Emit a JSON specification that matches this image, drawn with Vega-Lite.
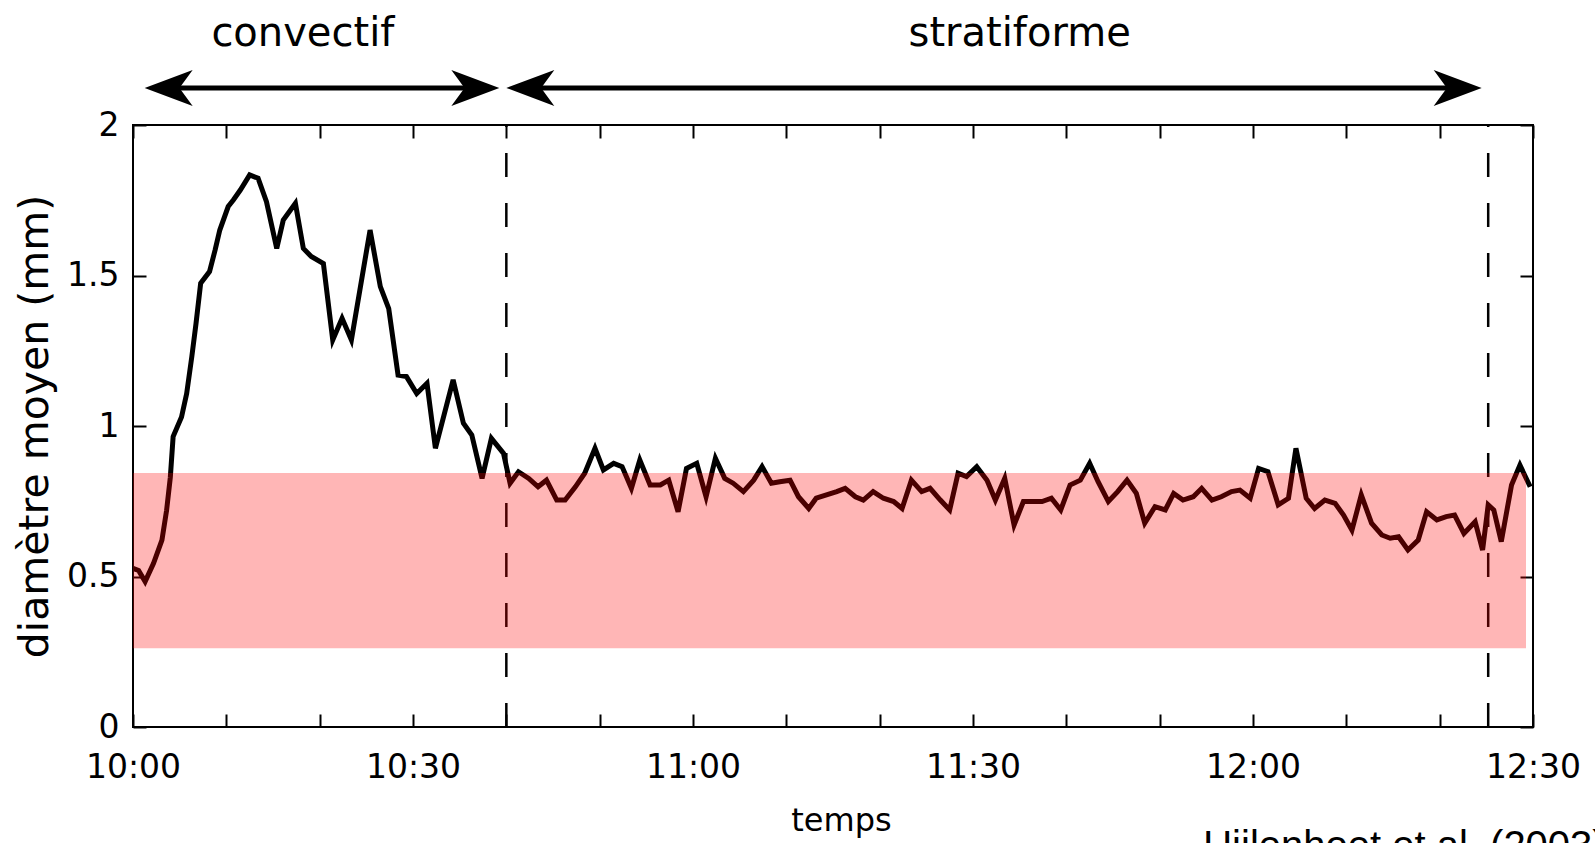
{
  "$schema": "https://vega.github.io/schema/vega-lite/v6.json",
  "width": 1400,
  "height": 602,
  "autosize": "none",
  "padding": {"left": 133, "top": 125, "right": 62, "bottom": 116},
  "background": "white",
  "config": {
    "view": {"stroke": "black", "strokeWidth": 2},
    "axis": {
      "labelFont": "DejaVu Sans",
      "titleFont": "DejaVu Sans",
      "labelColor": "black",
      "titleColor": "black",
      "tickColor": "black",
      "tickWidth": 2,
      "labelFontSize": 33,
      "titleFontWeight": "normal",
      "grid": false,
      "domain": false,
      "labelOverlap": false,
      "labelFlush": false,
      "labelBound": false
    },
    "text": {"font": "DejaVu Sans", "color": "black"}
  },
  "layer": [
    {
      "data": {
        "values": [
          {"t": "10:00:00", "d": 0.527}, {"t": "10:00:36", "d": 0.52}, {"t": "10:01:18", "d": 0.483},
          {"t": "10:02:12", "d": 0.544}, {"t": "10:03:06", "d": 0.621}, {"t": "10:03:36", "d": 0.72},
          {"t": "10:04:00", "d": 0.83}, {"t": "10:04:18", "d": 0.965}, {"t": "10:05:12", "d": 1.03},
          {"t": "10:05:45", "d": 1.108}, {"t": "10:06:18", "d": 1.23}, {"t": "10:06:45", "d": 1.34},
          {"t": "10:07:15", "d": 1.474}, {"t": "10:08:12", "d": 1.513}, {"t": "10:08:48", "d": 1.585},
          {"t": "10:09:18", "d": 1.651}, {"t": "10:10:12", "d": 1.729}, {"t": "10:10:45", "d": 1.751},
          {"t": "10:11:30", "d": 1.784}, {"t": "10:12:30", "d": 1.834}, {"t": "10:13:24", "d": 1.823},
          {"t": "10:14:18", "d": 1.745}, {"t": "10:15:24", "d": 1.59}, {"t": "10:16:06", "d": 1.684},
          {"t": "10:17:24", "d": 1.74}, {"t": "10:18:15", "d": 1.59}, {"t": "10:19:06", "d": 1.563},
          {"t": "10:20:24", "d": 1.54}, {"t": "10:21:24", "d": 1.286}, {"t": "10:22:24", "d": 1.358},
          {"t": "10:23:24", "d": 1.286}, {"t": "10:25:24", "d": 1.651}, {"t": "10:26:30", "d": 1.463},
          {"t": "10:27:24", "d": 1.39}, {"t": "10:28:24", "d": 1.169}, {"t": "10:29:18", "d": 1.164},
          {"t": "10:30:24", "d": 1.108}, {"t": "10:31:30", "d": 1.142}, {"t": "10:32:24", "d": 0.926},
          {"t": "10:34:18", "d": 1.153}, {"t": "10:35:24", "d": 1.009}, {"t": "10:36:18", "d": 0.97},
          {"t": "10:37:24", "d": 0.826}, {"t": "10:38:24", "d": 0.959}, {"t": "10:39:42", "d": 0.909},
          {"t": "10:40:24", "d": 0.81}, {"t": "10:41:18", "d": 0.848}, {"t": "10:42:24", "d": 0.826},
          {"t": "10:43:24", "d": 0.798}, {"t": "10:44:18", "d": 0.82}, {"t": "10:45:24", "d": 0.754},
          {"t": "10:46:18", "d": 0.754}, {"t": "10:47:24", "d": 0.798}, {"t": "10:48:24", "d": 0.843},
          {"t": "10:49:30", "d": 0.926}, {"t": "10:50:24", "d": 0.854}, {"t": "10:51:30", "d": 0.876},
          {"t": "10:52:24", "d": 0.865}, {"t": "10:53:24", "d": 0.793}, {"t": "10:54:18", "d": 0.887},
          {"t": "10:55:24", "d": 0.804}, {"t": "10:56:30", "d": 0.804}, {"t": "10:57:24", "d": 0.82},
          {"t": "10:58:24", "d": 0.715}, {"t": "10:59:18", "d": 0.859}, {"t": "11:00:24", "d": 0.876},
          {"t": "11:01:24", "d": 0.765}, {"t": "11:02:24", "d": 0.893}, {"t": "11:03:24", "d": 0.826},
          {"t": "11:04:18", "d": 0.81}, {"t": "11:05:24", "d": 0.782}, {"t": "11:06:30", "d": 0.82},
          {"t": "11:07:24", "d": 0.865}, {"t": "11:08:24", "d": 0.81}, {"t": "11:09:18", "d": 0.815},
          {"t": "11:10:24", "d": 0.82}, {"t": "11:11:18", "d": 0.765}, {"t": "11:12:24", "d": 0.726},
          {"t": "11:13:12", "d": 0.76}, {"t": "11:14:18", "d": 0.771}, {"t": "11:15:24", "d": 0.782},
          {"t": "11:16:18", "d": 0.793}, {"t": "11:17:24", "d": 0.765}, {"t": "11:18:15", "d": 0.754},
          {"t": "11:19:18", "d": 0.782}, {"t": "11:20:24", "d": 0.76}, {"t": "11:21:30", "d": 0.749},
          {"t": "11:22:24", "d": 0.726}, {"t": "11:23:24", "d": 0.82}, {"t": "11:24:30", "d": 0.782},
          {"t": "11:25:24", "d": 0.793}, {"t": "11:26:30", "d": 0.754}, {"t": "11:27:30", "d": 0.721},
          {"t": "11:28:24", "d": 0.843}, {"t": "11:29:18", "d": 0.832}, {"t": "11:30:24", "d": 0.865},
          {"t": "11:31:30", "d": 0.82}, {"t": "11:32:24", "d": 0.754}, {"t": "11:33:24", "d": 0.826},
          {"t": "11:34:24", "d": 0.671}, {"t": "11:35:24", "d": 0.749}, {"t": "11:36:30", "d": 0.749},
          {"t": "11:37:24", "d": 0.749}, {"t": "11:38:24", "d": 0.76}, {"t": "11:39:24", "d": 0.721},
          {"t": "11:40:24", "d": 0.804}, {"t": "11:41:30", "d": 0.82}, {"t": "11:42:30", "d": 0.876},
          {"t": "11:43:24", "d": 0.815}, {"t": "11:44:30", "d": 0.749}, {"t": "11:45:30", "d": 0.782},
          {"t": "11:46:30", "d": 0.82}, {"t": "11:47:30", "d": 0.776}, {"t": "11:48:24", "d": 0.677},
          {"t": "11:49:30", "d": 0.732}, {"t": "11:50:36", "d": 0.721}, {"t": "11:51:30", "d": 0.776},
          {"t": "11:52:30", "d": 0.754}, {"t": "11:53:36", "d": 0.765}, {"t": "11:54:30", "d": 0.793},
          {"t": "11:55:36", "d": 0.754}, {"t": "11:56:36", "d": 0.765}, {"t": "11:57:42", "d": 0.782},
          {"t": "11:58:36", "d": 0.787}, {"t": "11:59:42", "d": 0.76}, {"t": "12:00:36", "d": 0.859},
          {"t": "12:01:36", "d": 0.848}, {"t": "12:02:42", "d": 0.738}, {"t": "12:03:48", "d": 0.76},
          {"t": "12:04:36", "d": 0.926}, {"t": "12:05:42", "d": 0.76}, {"t": "12:06:36", "d": 0.726},
          {"t": "12:07:42", "d": 0.754}, {"t": "12:08:48", "d": 0.743}, {"t": "12:09:42", "d": 0.704},
          {"t": "12:10:36", "d": 0.654}, {"t": "12:11:36", "d": 0.771}, {"t": "12:12:42", "d": 0.677},
          {"t": "12:13:48", "d": 0.638}, {"t": "12:14:42", "d": 0.627}, {"t": "12:15:36", "d": 0.632},
          {"t": "12:16:36", "d": 0.588}, {"t": "12:17:42", "d": 0.621}, {"t": "12:18:36", "d": 0.715},
          {"t": "12:19:42", "d": 0.688}, {"t": "12:20:42", "d": 0.699}, {"t": "12:21:36", "d": 0.704},
          {"t": "12:22:36", "d": 0.643}, {"t": "12:23:48", "d": 0.682}, {"t": "12:24:36", "d": 0.588},
          {"t": "12:25:12", "d": 0.738}, {"t": "12:25:48", "d": 0.721}, {"t": "12:26:36", "d": 0.616},
          {"t": "12:27:42", "d": 0.804}, {"t": "12:28:36", "d": 0.87}, {"t": "12:29:42", "d": 0.798}
        ],
        "format": {"parse": {"t": "utc:'%H:%M:%S'"}}
      },
      "mark": {"type": "line", "color": "black", "strokeWidth": 5},
      "encoding": {
        "x": {
          "field": "t",
          "type": "temporal",
          "scale": {"type": "utc", "domain": [-2208952800000, -2208943800000]},
          "axis": {
            "orient": "bottom",
            "values": [
              -2208952800000, -2208952200000, -2208951600000, -2208951000000,
              -2208950400000, -2208949800000, -2208949200000, -2208948600000,
              -2208948000000, -2208947400000, -2208946800000, -2208946200000,
              -2208945600000, -2208945000000, -2208944400000, -2208943800000
            ],
            "labelExpr": "utcminutes(datum.value) % 30 === 0 ? utcFormat(datum.value, '%H:%M') : ''",
            "tickSize": -13,
            "labelPadding": 37,
            "title": "temps",
            "titleFontSize": 32,
            "titlePadding": 21,
            "titleX": 708
          }
        },
        "y": {
          "field": "d",
          "type": "quantitative",
          "scale": {"domain": [0, 2], "nice": false, "zero": false},
          "axis": {
            "orient": "left",
            "values": [0, 0.5, 1, 1.5, 2],
            "format": "~g",
            "tickSize": -13,
            "labelPadding": 27,
            "title": "diamètre moyen (mm)",
            "titleFontSize": 41,
            "titlePadding": 10
          }
        }
      }
    },
    {
      "data": {
        "values": [{"t": "10:40:00"}, {"t": "12:25:12"}],
        "format": {"parse": {"t": "utc:'%H:%M:%S'"}}
      },
      "mark": {"type": "rule", "color": "black", "strokeWidth": 2.5, "strokeDash": [24, 26]},
      "encoding": {
        "x": {"field": "t", "type": "temporal", "axis": null},
        "y": {"datum": 0, "type": "quantitative", "axis": null},
        "y2": {"datum": 2}
      }
    },
    {
      "data": {
        "values": [{"debut": "10:00:00", "fin": "12:29:15", "bas": 0.262, "haut": 0.844}],
        "format": {"parse": {"debut": "utc:'%H:%M:%S'", "fin": "utc:'%H:%M:%S'"}}
      },
      "mark": {"type": "rect", "color": "#ff0000", "opacity": 0.285},
      "encoding": {
        "x": {
          "field": "debut",
          "type": "temporal",
          "axis": {
            "orient": "top",
            "values": [
              -2208952800000, -2208952200000, -2208951600000, -2208951000000,
              -2208950400000, -2208949800000, -2208949200000, -2208948600000,
              -2208948000000, -2208947400000, -2208946800000, -2208946200000,
              -2208945600000, -2208945000000, -2208944400000, -2208943800000
            ],
            "labels": false,
            "tickSize": -13,
            "title": null
          }
        },
        "x2": {"field": "fin"},
        "y": {
          "field": "bas",
          "type": "quantitative",
          "axis": {
            "orient": "right",
            "values": [0, 0.5, 1, 1.5, 2],
            "labels": false,
            "tickSize": -13,
            "title": null
          }
        },
        "y2": {"field": "haut"}
      }
    },
    {
      "data": {
        "values": [
          {"phase": "convectif", "debut": "10:01:15", "fin": "10:39:15", "centre": "10:18:12"},
          {"phase": "stratiforme", "debut": "10:40:00", "fin": "12:24:30", "centre": "11:35:00"}
        ],
        "format": {
          "parse": {"debut": "utc:'%H:%M:%S'", "fin": "utc:'%H:%M:%S'", "centre": "utc:'%H:%M:%S'"}
        }
      },
      "layer": [
        {
          "mark": {"type": "rule", "color": "black", "strokeWidth": 5, "xOffset": 10, "x2Offset": -10},
          "encoding": {
            "x": {"field": "debut", "type": "temporal", "axis": null},
            "x2": {"field": "fin"},
            "y": {"datum": 2.123, "type": "quantitative", "axis": null}
          }
        },
        {
          "transform": [{"fold": ["debut", "fin"], "as": ["pointe", "instant"]}],
          "mark": {"type": "point", "filled": true, "color": "black", "opacity": 1, "size": 2304, "strokeWidth": 0},
          "encoding": {
            "x": {"field": "instant", "type": "temporal", "axis": null},
            "y": {"datum": 2.123, "type": "quantitative", "axis": null},
            "shape": {
              "field": "pointe",
              "type": "nominal",
              "scale": {
                "domain": ["debut", "fin"],
                "range": ["M0,0 L2,-0.75 L1.45,0 L2,0.75 Z", "M0,0 L-2,-0.75 L-1.45,0 L-2,0.75 Z"]
              },
              "legend": null
            }
          }
        },
        {
          "mark": {"type": "text", "fontSize": 40, "align": "center", "baseline": "alphabetic"},
          "encoding": {
            "x": {"field": "centre", "type": "temporal", "axis": null},
            "y": {"datum": 2.262, "type": "quantitative", "axis": null},
            "text": {"field": "phase"}
          }
        }
      ]
    },
    {
      "data": {"values": [{}]},
      "mark": {
        "type": "text",
        "text": "Uijlenhoet et al. (2003)",
        "font": "Liberation Sans",
        "fontSize": 40,
        "align": "left",
        "baseline": "alphabetic"
      },
      "encoding": {
        "x": {"datum": -2208945920000, "type": "temporal", "axis": null},
        "y": {"datum": -0.438, "type": "quantitative", "axis": null}
      }
    }
  ]
}
